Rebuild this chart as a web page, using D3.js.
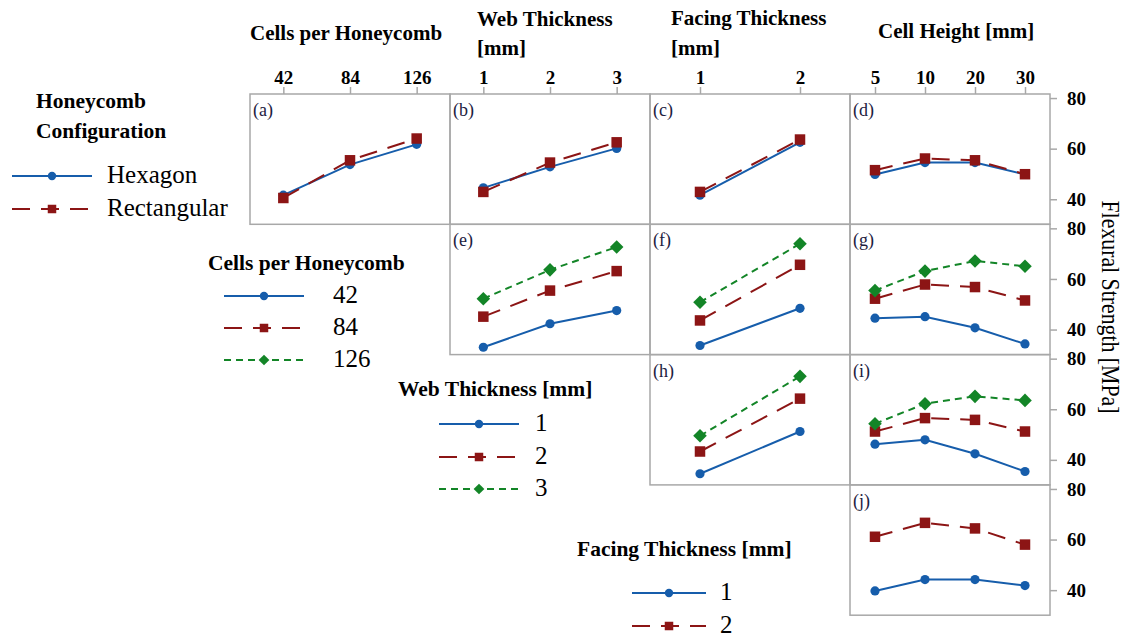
<!DOCTYPE html>
<html><head><meta charset="utf-8">
<script src="https://cdn.jsdelivr.net/npm/d3@7"></script>
<style>body{margin:0;background:#fff} svg{display:block} text{font-family:"Liberation Serif";}</style>
</head><body>
<script>
// ---- tick labels / factor levels ----
const cellsTicks = ["42","84","126"];
const webTicks = ["1","2","3"];
const facingTicks = ["1","2"];
const heightTicks = ["5","10","20","30"];
const configLevels = ["Hexagon","Rectangular"];
const cellsLevels = ["42","84","126"];
const webLevels = ["1","2","3"];
const facingLevels = ["1","2"];
const yTicks = [40, 60, 80];

// ---- series values (Flexural Strength, MPa) ----
// row 1: Honeycomb configuration
const aHex = [41.6, 53.7, 61.7], aRect = [40.5, 55.4, 64.0];
const bHex = [44.5, 52.8, 60.1], bRect = [42.9, 54.5, 62.5];
const cHex = [41.6, 62.5],       cRect = [42.9, 63.6];
const dHex = [49.8, 54.5, 54.5, 49.8], dRect = [51.5, 56.1, 55.4, 49.9];
// row 2: Cells per honeycomb
const e42 = [33.0, 42.3, 47.5], e84 = [45.1, 55.4, 63.1], e126 = [52.2, 63.6, 72.6];
const f42 = [33.7, 48.4],       f84 = [43.6, 65.6],       f126 = [50.8, 73.9];
const g42 = [44.5, 45.1, 40.7, 34.3], g84 = [52.2, 57.8, 56.8, 51.5], g126 = [55.4, 63.1, 67.1, 65.0];
// row 3: Web thickness
const hW1 = [34.5, 51.2], hW2 = [43.3, 64.2], hW3 = [49.5, 73.0];
const iW1 = [46.2, 47.9, 42.4, 35.4], iW2 = [51.2, 56.5, 55.8, 51.2], iW3 = [54.3, 62.2, 65.1, 63.5];
// row 4: Facing thickness
const jF1 = [39.7, 44.2, 44.2, 41.8], jF2 = [61.1, 66.6, 64.4, 58.0];

// ---- styles ----
const colors = ["#165dab", "#8c1515", "#138527"];
const dashes = [null, "18,11", "7,5"];
const serif = "Liberation Serif";

const W = 1131, H = 637;
const svg = d3.select("body").append("svg").attr("width", W).attr("height", H)
  .attr("font-family", serif);

const colX = [250, 450, 650, 850], colW = 200;
const top0 = 94, rowH = 130.3;
const colTicks = [cellsTicks, webTicks, facingTicks, heightTicks];

const xScales = colTicks.map(t => d3.scalePoint().domain(t).range([0, colW]).padding(0.5));
const y = d3.scaleLinear().domain([30.1, 81.6]).range([rowH, 0]);

const panels = [
  {r:0,c:0,lab:"(a)",s:[aHex,aRect]},
  {r:0,c:1,lab:"(b)",s:[bHex,bRect]},
  {r:0,c:2,lab:"(c)",s:[cHex,cRect]},
  {r:0,c:3,lab:"(d)",s:[dHex,dRect]},
  {r:1,c:1,lab:"(e)",s:[e42,e84,e126]},
  {r:1,c:2,lab:"(f)",s:[f42,f84,f126]},
  {r:1,c:3,lab:"(g)",s:[g42,g84,g126]},
  {r:2,c:2,lab:"(h)",s:[hW1,hW2,hW3]},
  {r:2,c:3,lab:"(i)",s:[iW1,iW2,iW3]},
  {r:3,c:3,lab:"(j)",s:[jF1,jF2]}
];

function marker(sel, k, big) {
  if (k === 0) {
    sel.append("circle").attr("r", big ? 4.6 : 4.2).attr("fill", colors[0]);
  } else if (k === 1) {
    const s = big ? 10.5 : 8.5;
    sel.append("rect").attr("x", -s/2).attr("y", -s/2).attr("width", s).attr("height", s).attr("fill", colors[1]);
  } else {
    const s = big ? 9.6 : 7.6;
    sel.append("rect").attr("x", -s/2).attr("y", -s/2).attr("width", s).attr("height", s)
      .attr("transform", "rotate(45)").attr("fill", colors[2]);
  }
}

// panels
panels.forEach(p => {
  const g = svg.append("g").attr("transform", `translate(${colX[p.c]},${top0 + p.r*rowH})`);
  g.append("rect").attr("width", colW).attr("height", rowH)
    .attr("fill", "none").attr("stroke", "#a8a8a8").attr("stroke-width", 1.5);
  g.append("text").attr("x", 3).attr("y", 22).attr("font-family", serif).attr("font-size", 18)
    .attr("fill", "#1d2140").text(p.lab);
  const xs = xScales[p.c];
  const dom = xs.domain();
  p.s.forEach((vals, k) => {
    const pts = vals.map((v, i) => [xs(dom[i]), y(v)]);
    g.append("path").attr("d", d3.line()(pts)).attr("fill", "none")
      .attr("stroke", colors[k]).attr("stroke-width", 2)
      .attr("stroke-dasharray", dashes[k]);
    pts.forEach(pt => {
      const m = g.append("g").attr("transform", `translate(${pt[0]},${pt[1]})`);
      marker(m, k, true);
    });
  });
});

// top axes
colTicks.forEach((t, c) => {
  const ax = svg.append("g").attr("transform", `translate(${colX[c]},${top0})`)
    .call(d3.axisTop(xScales[c]).tickSize(7).tickPadding(3));
  ax.attr("font-family", serif);
  ax.select(".domain").remove();
  ax.selectAll(".tick line").attr("stroke", "#a8a8a8").attr("stroke-width", 1.5);
  ax.selectAll(".tick text").attr("font-family", serif).attr("font-size", 19)
    .attr("font-weight", "bold").attr("fill", "#000");
});

// right axes
for (let r = 0; r < 4; r++) {
  const ax = svg.append("g").attr("transform", `translate(1050,${top0 + r*rowH})`)
    .call(d3.axisRight(y).tickValues(yTicks).tickSize(7).tickPadding(10));
  ax.attr("font-family", serif);
  ax.select(".domain").remove();
  ax.selectAll(".tick line").attr("stroke", "#a8a8a8").attr("stroke-width", 1.5);
  ax.selectAll(".tick text").attr("font-family", serif).attr("font-size", 19)
    .attr("font-weight", "bold").attr("fill", "#000");
}

// column headers
function bold(x, yy, s, size) {
  svg.append("text").attr("x", x).attr("y", yy).attr("font-family", serif)
    .attr("font-size", size || 21).attr("font-weight", "bold").text(s);
}
bold(250, 40, "Cells per Honeycomb");
bold(477, 26, "Web Thickness");
bold(477, 55, "[mm]");
bold(671, 25, "Facing Thickness");
bold(671, 55, "[mm]");
bold(878, 38, "Cell Height [mm]");

// y title
svg.append("text").attr("transform", "translate(1102,307) rotate(90)")
  .attr("text-anchor", "middle").attr("font-family", serif).attr("font-size", 26)
  .attr("textLength", 213).attr("lengthAdjust", "spacingAndGlyphs")
  .text("Flexural Strength [MPa]");

// legends
function legend(titles, titleX, titleYs, levels, ys, x0, x1, tx) {
  titles.forEach((t, i) => bold(titleX, titleYs[i], t, 21.5));
  levels.forEach((lv, k) => {
    const yy = ys[k];
    svg.append("line").attr("x1", x0).attr("x2", x1).attr("y1", yy).attr("y2", yy)
      .attr("stroke", colors[k]).attr("stroke-width", 2).attr("stroke-dasharray", dashes[k]);
    const m = svg.append("g").attr("transform", `translate(${(x0 + x1)/2},${yy})`);
    marker(m, k, false);
    svg.append("text").attr("x", tx).attr("y", yy + 7).attr("font-family", serif)
      .attr("font-size", 25).text(lv);
  });
}
legend(["Honeycomb", "Configuration"], 36, [108, 138], configLevels, [176, 209], 12, 92, 107);
legend(["Cells per Honeycomb"], 208, [270], cellsLevels, [296, 328, 360], 224, 304, 333);
legend(["Web Thickness [mm]"], 398, [396], webLevels, [424, 457, 489], 439, 519, 535);
legend(["Facing Thickness [mm]"], 577, [556], facingLevels, [593, 626], 632, 706, 720);
</script>
</body></html>
